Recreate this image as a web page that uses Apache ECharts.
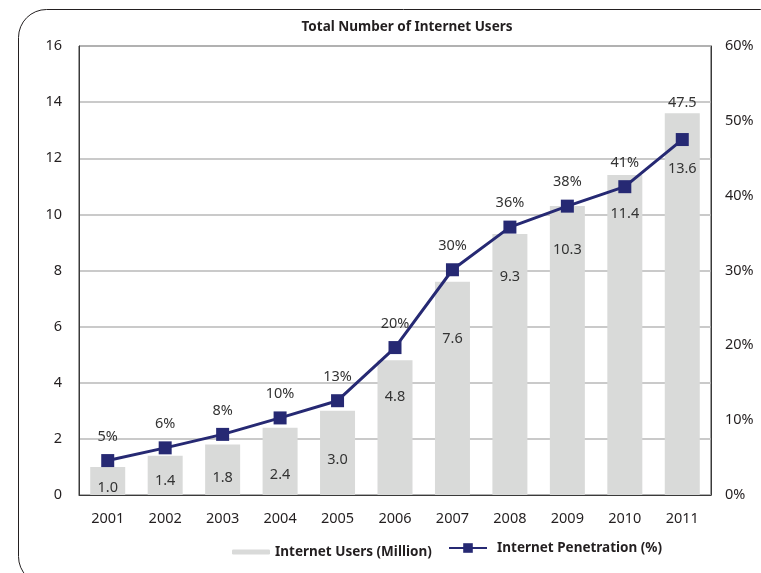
<!DOCTYPE html>
<html>
<head>
<meta charset="UTF-8">
<title>index.html</title>
<style type="text/css">
html, body { margin: 0; padding: 0; background: #fff; }
#main { width: 761px; height: 573px; }
</style>
</head>
<body>
<div id="main"></div>
<script type="text/javascript" src="https://cdn.jsdelivr.net/npm/echarts@6/dist/echarts.min.js"></script>
<script>
  var years = ['2001', '2002', '2003', '2004', '2005', '2006', '2007', '2008', '2009', '2010', '2011'];
  var users = [1.0, 1.4, 1.8, 2.4, 3.0, 4.8, 7.6, 9.3, 10.3, 11.4, 13.6];
  var penetration = [4.6, 6.3, 8.1, 10.3, 12.6, 19.7, 30.1, 35.8, 38.6, 41.2, 47.5];
  var penetrationText = ['5%', '6%', '8%', '10%', '13%', '20%', '30%', '36%', '38%', '41%', '47.5'];

  // label spacing below bar tops, as drawn in the original
  var barLabelGap = [13, 18, 26, 40, 42, 29, 50, 35, 36, 31, 48];
  var lineLabelGap = [10, 10, 10, 10, 10, 10, 10, 10, 10, 10, 23];

  var font = '"Noto Sans", sans-serif';
  var txt = '#231f20';

  var barData = users.map(function (v, i) {
    return { value: v, label: { distance: barLabelGap[i] } };
  });
  var lineData = penetration.map(function (v, i) {
    return { value: v, label: { distance: lineLabelGap[i], formatter: penetrationText[i] } };
  });

  var myChart = echarts.init(document.getElementById('main'));
  var option = {
    animation: false,
    textStyle: { fontFamily: font },
    title: {
      text: 'Total Number of Internet Users',
      left: 402,
      textAlign: 'center',
      top: 15,
      textStyle: { fontFamily: font, fontSize: 13.5, fontWeight: 'bold', color: txt }
    },
    graphic: [{
      type: 'rect',
      shape: { x: 18.5, y: 9.5, width: 770, height: 575, r: 28 },
      style: { fill: 'none', stroke: '#231f20', lineWidth: 1 },
      silent: true
    }],
    legend: [{
      data: ['Internet Users (Million)'],
      left: 227,
      top: 540,
      itemWidth: 38,
      itemHeight: 5,
      itemGap: 5,
      textStyle: { fontFamily: font, fontSize: 13.5, fontWeight: 'bold', color: txt }
    }, {
      data: ['Internet Penetration (%)'],
      left: 443,
      top: 536,
      itemWidth: 38,
      itemHeight: 12,
      textStyle: { fontFamily: font, fontSize: 13.5, fontWeight: 'bold', color: txt, padding: [0, 0, 0, 5] }
    }],
    grid: {
      left: 79,
      right: 50,
      top: 46,
      bottom: 78,
      show: true,
      borderColor: '#3a3a3a',
      borderWidth: 1
    },
    xAxis: {
      type: 'category',
      data: years,
      axisLine: { lineStyle: { color: '#3a3a3a' } },
      axisTick: { show: false },
      axisLabel: { margin: 16, fontSize: 14.5, color: txt, fontFamily: font }
    },
    yAxis: [{
      type: 'value',
      min: 0,
      max: 16,
      interval: 2,
      axisLine: { show: true, lineStyle: { color: '#3a3a3a' } },
      axisTick: { show: false },
      axisLabel: { margin: 17, fontSize: 14.5, color: txt, fontFamily: font },
      splitLine: { lineStyle: { color: '#b9b9b9', width: 1.5 } }
    }, {
      type: 'value',
      min: 0,
      max: 60,
      interval: 10,
      axisLine: { show: true, lineStyle: { color: '#3a3a3a' } },
      axisTick: { show: false },
      axisLabel: { margin: 14, fontSize: 14.5, color: txt, fontFamily: font, formatter: '{value}%' },
      splitLine: { show: false }
    }],
    series: [{
      name: 'Internet Users (Million)',
      type: 'bar',
      data: barData,
      barWidth: 35,
      itemStyle: { color: '#d9dad9' },
      label: {
        show: true,
        position: 'insideTop',
        fontSize: 14.5,
        color: '#333',
        fontFamily: font,
        formatter: function (p) { return p.value.toFixed(1); }
      },
      z: 2
    }, {
      name: 'Internet Penetration (%)',
      type: 'line',
      yAxisIndex: 1,
      data: lineData,
      symbol: 'rect',
      symbolSize: 13,
      lineStyle: { color: '#262973', width: 3 },
      itemStyle: { color: '#262973' },
      label: {
        show: true,
        position: 'top',
        fontSize: 14.5,
        color: '#333',
        fontFamily: font
      },
      z: 3
    }]
  };
  myChart.setOption(option);
</script>
</body>
</html>
